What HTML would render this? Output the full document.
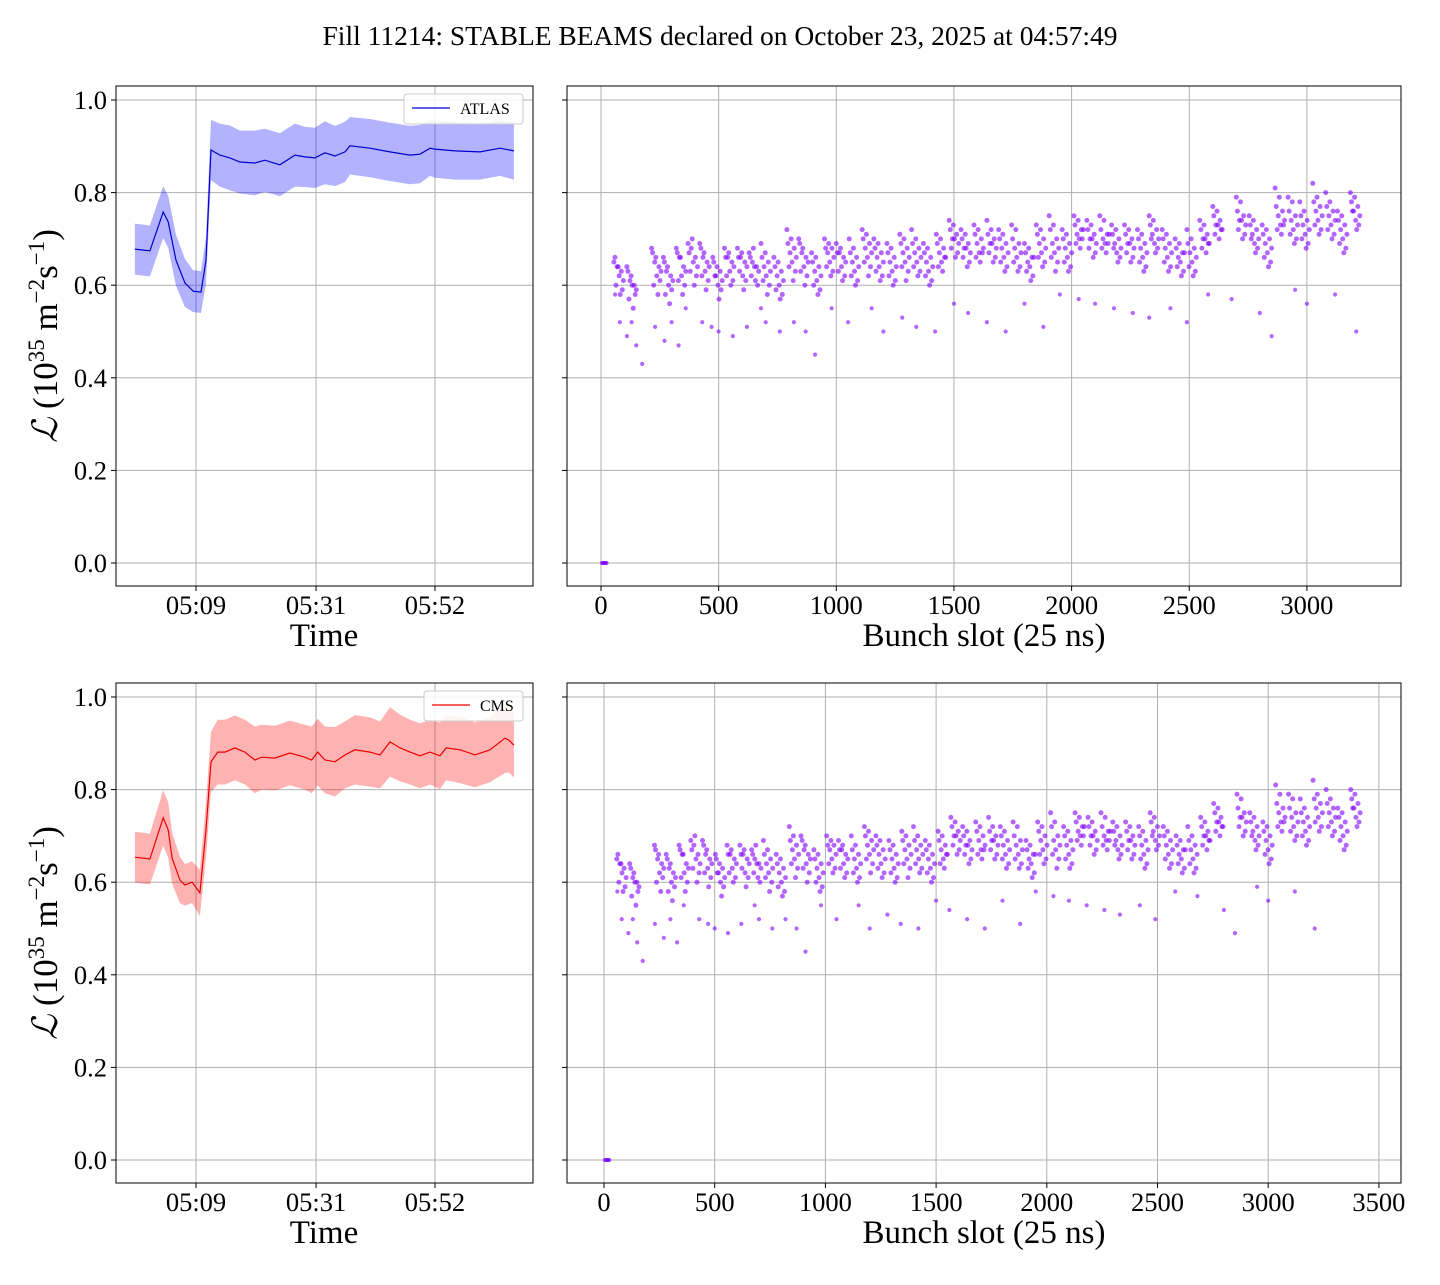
<!DOCTYPE html>
<html><head><meta charset="utf-8"><style>
body{margin:0;background:#fff;}
svg text{font-family:"Liberation Serif",serif;fill:#000;}
</style></head><body>
<svg id="fig" width="1440" height="1280" xmlns="http://www.w3.org/2000/svg">
<rect width="1440" height="1280" fill="#fff"/>
<text x="720" y="45" text-anchor="middle" font-size="27.5">Fill 11214: STABLE BEAMS declared on October 23, 2025 at 04:57:49</text>
</svg>
<script>
// ---- time-series data (minutes since 05:00) ----
const atlasT=[-2.0,0.7,3.1,4.0,5.4,7.0,8.5,9.9,10.8,11.7,13.3,15.1,16.9,19.6,21.4,24.1,26.8,28.6,30.4,32.2,34.0,35.8,36.7,40.3,43.9,47.5,49.3,51.1,52.0,55.6,60.1,63.7,66.2];
const atlasV=[0.678,0.674,0.758,0.737,0.654,0.605,0.587,0.585,0.654,0.892,0.881,0.875,0.866,0.864,0.870,0.860,0.881,0.877,0.875,0.886,0.879,0.888,0.901,0.896,0.888,0.881,0.883,0.896,0.894,0.890,0.888,0.896,0.890];
const atlasErr=[0.055,0.055,0.056,0.056,0.055,0.052,0.045,0.045,0.05,0.065,0.068,0.07,0.068,0.07,0.068,0.068,0.068,0.065,0.065,0.068,0.065,0.065,0.062,0.063,0.063,0.063,0.063,0.06,0.062,0.062,0.06,0.06,0.062];
const cmsT=[-2.0,0.7,3.1,4.0,4.7,6.1,7.0,8.3,9.7,10.8,11.7,12.9,14.2,16.0,17.8,19.6,20.8,23.2,25.9,28.6,29.8,30.9,32.2,34.0,35.8,37.6,40.3,42.1,43.9,45.7,47.5,49.3,51.1,52.9,54.0,56.5,59.2,61.9,64.6,65.3,66.2];
const cmsV=[0.654,0.650,0.739,0.713,0.652,0.605,0.594,0.600,0.577,0.713,0.860,0.881,0.881,0.890,0.881,0.864,0.870,0.868,0.879,0.870,0.864,0.881,0.864,0.860,0.875,0.886,0.881,0.875,0.903,0.890,0.881,0.873,0.881,0.873,0.890,0.886,0.875,0.886,0.911,0.907,0.896];
const cmsErr=[0.055,0.055,0.06,0.06,0.055,0.05,0.045,0.045,0.05,0.06,0.065,0.07,0.07,0.07,0.07,0.072,0.07,0.07,0.07,0.07,0.072,0.072,0.072,0.075,0.072,0.075,0.075,0.072,0.075,0.072,0.07,0.07,0.07,0.072,0.07,0.072,0.07,0.07,0.075,0.07,0.07];
const timeTicks=[9,30.6,52];
const timeLabels=["05:09","05:31","05:52"];
const yTicks=[0,0.2,0.4,0.6,0.8,1.0];
const yLabels=["0.0","0.2","0.4","0.6","0.8","1.0"];
// ---- bunch-by-bunch data ----
const topTrainStarts=[55,110,215,265,320,370,420,475,525,580,630,680,735,790,840,895,950,1000,1055,1110,1160,1215,1270,1320,1370,1425,1480,1530,1585,1640,1690,1745,1800,1850,1905,1960,2010,2065,2120,2170,2225,2280,2330,2385,2440,2490,2545,2600,2700,2755,2810,2865,2920,2970,3025,3080,3130,3185];
const botTrainStarts=[58,116,228,281,339,392,445,503,556,614,667,720,778,837,890,948,1006,1059,1117,1176,1228,1287,1345,1398,1451,1509,1567,1620,1679,1737,1790,1848,1906,1959,2017,2076,2128,2186,2245,2298,2356,2415,2467,2526,2584,2637,2695,2754,2859,2917,2976,3034,3092,3145,3203,3262,3315,3373];
// bunch index within train for each of the 10 sampled values
const sampleBunchIdx=[0,4,1,7,3,9,5,2,8,6];
const trainValues=[
[.65,.64,.66,.63,.64,.61,.62,.60,.59,.58],[.64,.62,.63,.60,.61,.59,.60,.57,.58,.55],
[.68,.66,.67,.64,.65,.63,.62,.60,.61,.58],[.66,.64,.65,.62,.63,.61,.60,.58,.59,.56],
[.68,.66,.67,.64,.66,.63,.62,.61,.60,.58],[.69,.70,.67,.66,.68,.64,.65,.63,.62,.60],
[.69,.67,.68,.65,.66,.64,.63,.62,.61,.59],[.66,.64,.65,.63,.62,.61,.60,.62,.59,.57],
[.68,.67,.66,.65,.66,.64,.63,.62,.61,.60],[.68,.67,.66,.65,.66,.64,.62,.63,.61,.59],
[.67,.68,.66,.64,.65,.63,.64,.62,.60,.61],[.69,.67,.66,.65,.64,.63,.62,.61,.60,.58],
[.66,.65,.64,.63,.62,.61,.60,.59,.58,.57],[.72,.70,.69,.68,.67,.66,.65,.64,.63,.61],
[.70,.68,.69,.66,.67,.65,.64,.63,.62,.60],[.67,.66,.65,.64,.63,.62,.61,.60,.59,.58],
[.70,.69,.68,.68,.67,.66,.65,.64,.63,.62],[.69,.68,.67,.66,.67,.65,.64,.63,.62,.61],
[.70,.68,.67,.66,.65,.64,.63,.62,.61,.60],[.72,.71,.70,.69,.68,.67,.66,.65,.64,.62],
[.70,.69,.68,.67,.66,.65,.64,.63,.62,.61],[.69,.68,.67,.66,.65,.64,.63,.62,.61,.60],
[.71,.70,.69,.68,.67,.66,.65,.64,.63,.61],[.72,.70,.69,.68,.67,.66,.65,.64,.63,.62],
[.69,.68,.67,.66,.65,.64,.63,.62,.61,.60],[.71,.70,.69,.68,.67,.66,.65,.64,.66,.63],
[.74,.73,.72,.71,.70,.69,.70,.68,.67,.66],[.72,.71,.70,.69,.68,.67,.68,.66,.65,.64],
[.73,.72,.71,.70,.69,.68,.67,.66,.67,.65],[.74,.72,.71,.70,.69,.68,.69,.67,.66,.65],
[.72,.71,.70,.69,.68,.67,.66,.65,.64,.63],[.73,.72,.70,.69,.68,.67,.66,.65,.64,.63],
[.69,.68,.67,.66,.65,.66,.64,.63,.62,.61],[.73,.72,.71,.70,.69,.68,.67,.66,.65,.64],
[.75,.73,.72,.70,.69,.68,.67,.66,.65,.63],[.72,.71,.70,.69,.68,.67,.66,.65,.64,.63],
[.75,.74,.73,.72,.71,.72,.70,.69,.70,.68],[.74,.73,.72,.71,.70,.69,.70,.68,.67,.66],
[.75,.74,.72,.71,.70,.71,.69,.68,.69,.67],[.73,.72,.71,.70,.69,.68,.67,.68,.66,.65],
[.73,.72,.71,.70,.69,.68,.69,.67,.66,.65],[.72,.71,.70,.69,.68,.67,.66,.65,.64,.63],
[.75,.74,.73,.72,.71,.70,.69,.70,.68,.67],[.72,.71,.70,.69,.68,.67,.66,.65,.64,.63],
[.70,.69,.68,.67,.66,.67,.65,.64,.63,.62],[.72,.70,.69,.68,.67,.66,.65,.64,.63,.62],
[.74,.73,.72,.71,.70,.69,.70,.68,.69,.67],[.77,.76,.75,.74,.73,.72,.73,.71,.72,.70],
[.79,.78,.76,.75,.74,.73,.74,.72,.71,.70],[.75,.74,.73,.72,.71,.70,.69,.70,.68,.67],
[.73,.72,.71,.70,.69,.68,.67,.66,.65,.64],[.81,.79,.77,.76,.75,.74,.73,.72,.73,.71],
[.79,.78,.76,.75,.74,.73,.72,.71,.70,.69],[.78,.76,.75,.74,.73,.72,.71,.70,.69,.68],
[.82,.79,.78,.77,.76,.75,.74,.73,.72,.71],[.80,.78,.77,.76,.75,.74,.73,.72,.71,.70],
[.76,.75,.74,.73,.72,.71,.70,.69,.68,.67],[.80,.79,.78,.77,.76,.75,.74,.76,.73,.72]];
const outlierSlots=[60,80,110,130,150,175,230,270,300,330,360,430,470,500,560,620,680,700,760,820,870,910,980,1050,1150,1200,1280,1340,1420,1500,1560,1640,1720,1800,1880,1950,2030,2100,2180,2260,2330,2420,2490,2580,2680,2800,2850,2950,3000,3120,3210];
const outlierValues=[.58,.52,.49,.52,.47,.43,.51,.48,.52,.47,.55,.52,.51,.50,.49,.51,.55,.52,.50,.52,.50,.45,.55,.52,.55,.50,.53,.51,.50,.56,.54,.52,.50,.56,.51,.58,.57,.56,.55,.54,.53,.55,.52,.58,.57,.54,.49,.59,.56,.58,.50];
const zeroSlots=[4,8,12,16,20,24];
const bunchTicksTop=[0,500,1000,1500,2000,2500,3000];
const bunchTicksBot=[0,500,1000,1500,2000,2500,3000,3500];

const NS="http://www.w3.org/2000/svg";
const svg=document.getElementById('fig');
function mk(tag,attrs,parent){const e=document.createElementNS(NS,tag);for(const k in attrs)e.setAttribute(k,attrs[k]);(parent||svg).appendChild(e);return e;}

function yScaleFactory(zeroY){return v=>zeroY-463*v;}
function timeX(t){return 196+(t-9)*5.558;}

function drawFrame(name){
  const g=mk('g',{});
  
  
  return g;
}
function yGrid(g,x0,x1,yS,withLabels){
  yTicks.forEach((v,i)=>{
    const y=yS(v);
    const l=mk('line',{x1:x0,x2:x1,y1:y,y2:y,stroke:'#b0b0b0','stroke-width':1},g);
    
    
    mk('line',{x1:x0-5,x2:x0,y1:y,y2:y,stroke:'#000','stroke-width':1},g);
    if(withLabels){
      const t=mk('text',{x:x0-9,y:y+9,'text-anchor':'end','font-size':26.5},g);
      t.textContent=yLabels[i];
      
      
    }
  });
}
function xGrid(g,ticks,labels,xf,y0,y1){
  ticks.forEach((v,i)=>{
    const x=xf(v);
    const l=mk('line',{x1:x,x2:x,y1:y0,y2:y1,stroke:'#b0b0b0','stroke-width':1},g);
    
    
    mk('line',{x1:x,x2:x,y1:y1,y2:y1+5,stroke:'#000','stroke-width':1},g);
    const t=mk('text',{x:x,y:y1+28,'text-anchor':'middle','font-size':26.5},g);
    t.textContent=labels[i];
    
    
  });
}
function spine(g,x0,y0,x1,y1){
  const r=mk('rect',{x:x0,y:y0,width:x1-x0,height:y1-y0,fill:'none',stroke:'#000','stroke-width':1},g);
  
  
}

function timePanel(y0,y1,zeroY,T,V,E,lineCol,fillCol,label,legX,panelName){
  const g=drawFrame(panelName);
  const yS=yScaleFactory(zeroY);
  yGrid(g,116,533,yS,true);
  xGrid(g,timeTicks,timeLabels,timeX,y0,y1);
  let up='',lo='';
  T.forEach((t,i)=>{up+=(i?'L':'M')+timeX(t).toFixed(1)+','+yS(V[i]+E[i]).toFixed(1);});
  for(let i=T.length-1;i>=0;i--){lo+='L'+timeX(T[i]).toFixed(1)+','+yS(V[i]-E[i]).toFixed(1);}
  const band=mk('path',{d:up+lo+'Z',fill:fillCol,'fill-opacity':0.3,stroke:'none'},g);
  
  
  let d='';T.forEach((t,i)=>{d+=(i?'L':'M')+timeX(t).toFixed(1)+','+yS(V[i]).toFixed(1);});
  const ln=mk('path',{d:d,fill:'none',stroke:lineCol,'stroke-width':1.2},g);
  
  
  spine(g,116,y0,533,y1);
  const lg=mk('g',{},g);
  
  
  mk('rect',{x:legX,y:y0+8,width:523-legX,height:30,rx:3,fill:'#fff','fill-opacity':0.85,stroke:'#ccc'},lg);
  mk('line',{x1:legX+8,x2:legX+46,y1:y0+22,y2:y0+22,stroke:lineCol,'stroke-width':1.2},lg);
  const lt=mk('text',{x:legX+56,y:y0+28,'font-size':16},lg);
  lt.textContent=label;
  
  
  const xl=mk('text',{x:324,y:y1+60,'text-anchor':'middle','font-size':33},g);
  xl.textContent='Time';
  
  
  const cy=(y0+y1)/2;
  const yl=mk('text',{x:0,y:0,'text-anchor':'middle','font-size':35,transform:`translate(57,${cy}) rotate(-90)`},g);
  yl.innerHTML='<tspan font-style="italic">ℒ</tspan> (10<tspan dy="-13" font-size="23">35</tspan><tspan dy="13"> m</tspan><tspan dy="-13" font-size="23">−2</tspan><tspan dy="13">s</tspan><tspan dy="-13" font-size="23">−1</tspan><tspan dy="13">)</tspan>';
  
  
}

function bunchPanel(y0,y1,zeroY,x0px,pxPer,starts,trainLen,ticks,panelName){
  const g=drawFrame(panelName);
  const yS=yScaleFactory(zeroY);
  const xS=s=>x0px+pxPer*s;
  yGrid(g,567,1401,yS,false);
  xGrid(g,ticks,ticks.map(String),xS,y0,y1);
  const dots=mk('g',{fill:'#8000ff','fill-opacity':0.6},g);
  
  
  starts.forEach((s,ti)=>{
    const vals=trainValues[ti];
    vals.forEach((v,j)=>{
      const c=mk('circle',{cx:xS(s+sampleBunchIdx[j]*trainLen/(vals.length-1)).toFixed(1),cy:yS(v).toFixed(1),r:2.5},dots);
      
      
    });
  });
  outlierSlots.forEach((s,i)=>{
    const c=mk('circle',{cx:xS(s).toFixed(1),cy:yS(outlierValues[i]).toFixed(1),r:2.1},dots);
    
    
  });
  zeroSlots.forEach(s=>{
    const c=mk('circle',{cx:xS(s).toFixed(1),cy:yS(0).toFixed(1),r:2},dots);
    
    
  });
  spine(g,567,y0,1401,y1);
  const xl=mk('text',{x:984,y:y1+60,'text-anchor':'middle','font-size':33},g);
  xl.textContent='Bunch slot (25 ns)';
  
  
}

timePanel(86,586,563,atlasT,atlasV,atlasErr,'#0000cc','#0000ff','ATLAS',404,'atlas-time-panel');
timePanel(683,1183,1160,cmsT,cmsV,cmsErr,'#ee0000','#ff0000','CMS',424,'cms-time-panel');
bunchPanel(86,586,563,601,0.2353,topTrainStarts,40,bunchTicksTop,'atlas-bunch-panel');
bunchPanel(683,1183,1160,604,0.2214,botTrainStarts,42,bunchTicksBot,'cms-bunch-panel');
</script>
</body></html>
